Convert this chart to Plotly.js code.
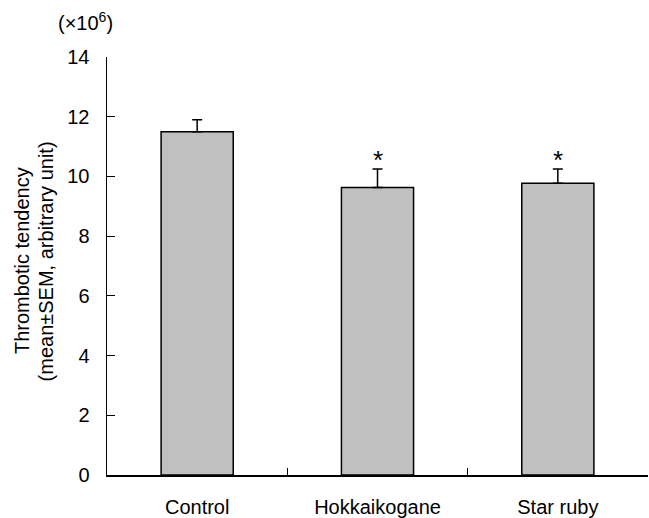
<!DOCTYPE html>
<html>
<head>
<meta charset="utf-8">
<script src="https://cdn.plot.ly/plotly-3.0.1.min.js"></script>
<style>html,body{margin:0;padding:0;background:#fff;}#chart{width:649px;height:518px;}</style>
</head>
<body>
<div id="chart"></div>
<script>
var categories = ["Control", "Hokkaikogane", "Star ruby"];
var means = [11.5, 9.63, 9.77];
var sems = [0.4, 0.62, 0.48];
var significant = [false, true, true];
var yTickVals = [0, 2, 4, 6, 8, 10, 12, 14];

var FONT = "Liberation Sans, Arial, sans-serif";

var trace = {
  type: "bar",
  x: categories,
  y: means,
  width: 0.4,
  marker: {color: "#c0c0c0", line: {color: "#000", width: 1.5}},
  error_y: {
    type: "data", symmetric: false, array: sems,
    arrayminus: sems.map(function(){return 0;}),
    color: "#000", thickness: 1.5, width: 5
  },
  hoverinfo: "none"
};

var annotations = [];
categories.forEach(function(c, i){
  if (significant[i]) {
    annotations.push({
      x: c, y: means[i] + sems[i], xref: "x", yref: "y",
      text: "*", showarrow: false, yanchor: "bottom", yshift: -8,
      font: {family: FONT, size: 26, color: "#000"}
    });
  }
});
annotations.push({
  xref: "paper", yref: "paper", x: -0.157, y: 0.512,
  text: "Thrombotic tendency", textangle: -90, showarrow: false,
  xanchor: "center", yanchor: "middle",
  font: {family: FONT, size: 20, color: "#000"}
});
annotations.push({
  xref: "paper", yref: "paper", x: -0.112, y: 0.512,
  text: "(mean±SEM, arbitrary unit)", textangle: -90, showarrow: false,
  xanchor: "center", yanchor: "middle",
  font: {family: FONT, size: 20, color: "#000"}
});
annotations.push({
  xref: "paper", yref: "paper", x: -0.039, y: 1.084,
  text: "(×10<sup>6</sup>)", showarrow: false,
  xanchor: "center", yanchor: "middle",
  font: {family: FONT, size: 20, color: "#000"}
});

var layout = {
  width: 649, height: 518,
  margin: {l: 107, r: 1, t: 57, b: 43, pad: 0},
  paper_bgcolor: "#fff", plot_bgcolor: "#fff",
  showlegend: false,
  xaxis: {
    type: "category", range: [-0.5, 2.5],
    showline: true, linecolor: "#000", linewidth: 1.5,
    ticks: "inside", tickson: "boundaries", ticklen: 7, tickwidth: 1.2, tickcolor: "#000",
    showgrid: false, zeroline: false,
    tickfont: {family: FONT, size: 20, color: "#000"},
    ticklabelstandoff: 13
  },
  yaxis: {
    range: [0, 14], tickvals: yTickVals, ticktext: yTickVals.map(String),
    showline: true, linecolor: "#000", linewidth: 1.5,
    ticks: "inside", ticklen: 8, tickwidth: 1.2, tickcolor: "#000",
    showgrid: false, zeroline: false,
    tickfont: {family: FONT, size: 20, color: "#000"},
    ticklabelstandoff: 12
  },
  annotations: annotations
};

Plotly.newPlot("chart", [trace], layout, {staticPlot: true, displayModeBar: false});
</script>
</body>
</html>
